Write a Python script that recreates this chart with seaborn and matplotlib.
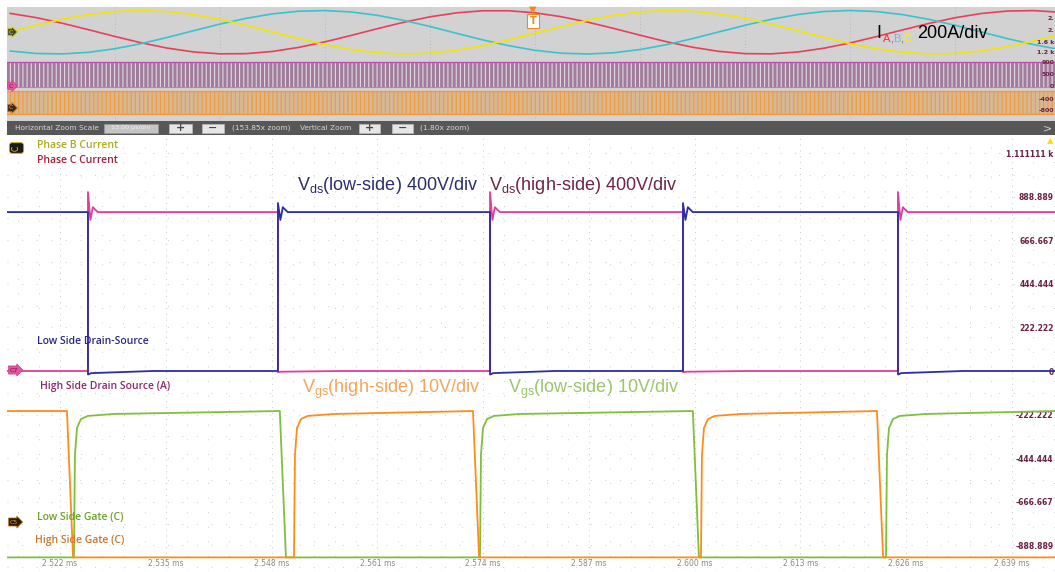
import numpy as np
import pandas as pd
import matplotlib
matplotlib.use("Agg")
import matplotlib.pyplot as plt
from matplotlib.patches import Rectangle
from matplotlib.ticker import MultipleLocator
import seaborn as sns

# ---- overview (full record) : three phase currents, sampled every 0.5 ms
ov_time_ms = [-10.0, -9.5, -9.0, -8.5, -8.0, -7.5, -7.0, -6.5, -6.0, -5.5, -5.0, -4.5, -4.0, -3.5,
              -3.0, -2.5, -2.0, -1.5, -1.0, -0.5, 0.0, 0.5, 1.0, 1.5, 2.0, 2.5, 3.0, 3.5, 4.0, 4.5,
              5.0, 5.5, 6.0, 6.5, 7.0, 7.5, 8.0, 8.5, 9.0, 9.5, 10.0]
phase_a_amp = [347, 269, 165, 46, -78, -194, -292, -362, -397, -393, -353, -278, -176, -58, 66, 184,
               284, 356, 395, 395, 358, 286, 187, 70, -54, -173, -275, -351, -393, -397, -363, -294,
               -197, -81, 43, 162, 267, 345, 390, 398, 368]
phase_b_amp = [-344, -390, -398, -368, -303, -209, -94, 29, 150, 256, 338, 387, 399, 373, 311, 219,
               106, -18, -139, -247, -332, -384, -400, -377, -318, -229, -117, 6, 128, 238, 325, 381,
               400, 381, 325, 238, 128, 6, -117, -228, -318]
phase_c_amp = [7, 129, 239, 326, 381, 400, 380, 324, 237, 127, 5, -118, -229, -319, -377, -400, -384,
               -331, -247, -138, -17, 106, 219, 311, 373, 399, 387, 338, 256, 149, 29, -95, -209, -304,
               -369, -399, -390, -344, -265, -160, -40]
ov_ticks_ms = [-8, -6, -4, -2, 0, 2, 4, 6, 8]
ov_tick_labels = ["-8 ms", "-6 ms", "-4 ms", "-2 ms", "0 s", "2 ms", "4 ms", "6 ms", "8 ms"]
ov_right_labels = ["2.", "2.", "1.6 k", "1.2 k", "900", "500", "0", "-400", "-800"]

# ---- zoomed window : switching edges (ms)
time_ticks_ms = [2.522, 2.535, 2.548, 2.561, 2.574, 2.587, 2.600, 2.613, 2.626, 2.639]
scale_ticks = [1111.111, 888.889, 666.667, 444.444, 222.222, 0, -222.222, -444.444, -666.667, -888.889]
scale_labels = ["1.111111 k", "888.889", "666.667", "444.444", "222.222", "0",
                "-222.222", "-444.444", "-666.667", "-888.889"]

vds_edges_ms = [2.52544, 2.54879, 2.57485, 2.59857, 2.62499]
vds_high, vds_low = 810, 0
hs_vds_spike, hs_vds_dip = 912, -6
ls_vds_spike, ls_vds_dip = 856, -18

hs_gate_fall_ms = [2.52286, 2.57276, 2.62241]
hs_gate_rise_ms = [2.55076, 2.60078]
ls_gate_rise_ms = [2.52372, 2.57362, 2.62352]
ls_gate_fall_ms = [2.54902, 2.59978]
gate_high, gate_low = -204, -950
gate_rise_dt_us = [0, 0.12, 0.37, 0.86, 1.7, 4.9]
gate_rise_level = [-950, -428, -290, -245, -229, -219]
gate_fall_us = 0.75

W, H = 1055, 572
T0, T1 = 2.51549, 2.64429
OV0, OV1 = -10.057, 9.905


def vds_trace(start_high, spike, dip):
    high = start_high
    ts, vs = [T0], [vds_high if high else vds_low]
    for t in vds_edges_ms:
        if high:
            ts += [t, t, t + 0.0004, t + 0.008]
            vs += [vds_high, dip, dip * 0.6, vds_low]
        else:
            ts += [t, t, t + 0.0003, t + 0.0006, t + 0.0012]
            vs += [vds_low, spike, vds_high - 40, vds_high + 25, vds_high]
        high = not high
    ts.append(T1)
    vs.append(vds_high if high else vds_low)
    return pd.DataFrame({"t": ts, "v": vs})


def gate_trace(rises, falls, start_high):
    events = sorted([(t, "r") for t in rises] + [(t, "f") for t in falls])
    ts, vs = [T0], [gate_high if start_high else gate_low]
    high = start_high
    for t, kind in events:
        if kind == "f":
            ts += [t, t + gate_fall_us / 1000]
            vs += [gate_high, gate_low]
            high = False
        else:
            ts.append(t)
            vs.append(gate_low)
            for dt, lv in zip(gate_rise_dt_us, gate_rise_level):
                ts.append(t + dt / 1000)
                vs.append(lv)
            high = True
    ts.append(T1)
    vs.append(gate_high if high else gate_low)
    return pd.DataFrame({"t": ts, "v": vs})


def add_ax(x0, y0, x1, y1, **kw):
    return fig.add_axes([x0 / W, 1 - y1 / H, (x1 - x0) / W, (y1 - y0) / H], **kw)


def ftxt(x, y, s, **kw):
    kw.setdefault("va", "center")
    return fig.text(x / W, 1 - y / H, s, **kw)


sns.set_style("white")
plt.rcParams["font.family"] = ["DejaVu Sans"]
plt.rcParams["mathtext.fontset"] = "custom"
plt.rcParams["mathtext.rm"] = "Liberation Sans"
plt.rcParams["hatch.linewidth"] = 0.8

fig = plt.figure(figsize=(W / 100, H / 100), dpi=100)

# ---------------- overview strip
bg = add_ax(7, 7, 1055, 121)
bg.set_facecolor("#d2d2d2")
bg.set_xlim(OV0, OV1)
bg.set_ylim(0, 1)
bg.axhspan(0.298, 0.5175, facecolor="#9f7d9a", edgecolor="#e6d6e6", hatch="||||", lw=0)
bg.axhline(0.5175, color="#c04fb4", lw=1.0)
bg.axhline(0.298, color="#e070b0", lw=0.8)
bg.axhspan(0.061, 0.263, facecolor="#d6b896", edgecolor="#f29a3a", hatch="||||", lw=0)
bg.axhline(0.263, color="#f29a3a", lw=1.0)
bg.axhline(0.061, color="#f29a3a", lw=1.0)
bg.set_xticks(ov_ticks_ms, ov_tick_labels)
bg.set_yticks([])
bg.tick_params(axis="x", length=0, pad=-7, labelsize=4.5, labelcolor="#707070")
bg.grid(axis="x", ls=(0, (1, 3)), color="#b0b0b0", lw=0.6)
for s in bg.spines.values():
    s.set_visible(False)

cur = add_ax(7, 8, 1055, 60)
cur.patch.set_alpha(0)
cur.set_xlim(OV0, OV1)
cur.set_ylim(-510, 446)
for vals, col in [(phase_a_amp, "#e8405a"), (phase_b_amp, "#38c4cc"), (phase_c_amp, "#f2e600")]:
    sns.lineplot(x=ov_time_ms, y=vals, ax=cur, color=col, lw=1.2, estimator=None, sort=False)
cur.axis("off")

ftxt(876, 33, "I", fontsize=13, family="Liberation Sans", color="black")
ftxt(883, 39, "A", fontsize=8, family="Liberation Sans", color="#ff2a2a")
ftxt(890, 39, ",", fontsize=8, family="Liberation Sans", color="#6a6a6a")
ftxt(893, 39, "B", fontsize=8, family="Liberation Sans", color="#7fb2e0")
ftxt(900, 39, ",", fontsize=8, family="Liberation Sans", color="#6a6a6a")
ftxt(903, 39, "C", fontsize=8, family="Liberation Sans", color="#ffee00", weight="bold")
ftxt(917, 33, "200A/div", fontsize=13, family="Liberation Sans", color="black")

for lab, y in zip(ov_right_labels, [19, 31, 42, 52, 63, 75, 86, 99, 110]):
    ftxt(1054, y, lab, ha="right", fontsize=4.5, color="#6b2142", weight="bold")

ftxt(533, 10, "\u25bc", ha="center", fontsize=7, color="#f08a20")
ftxt(533, 21, "T", ha="center", fontsize=7, weight="bold", color="#f08a20",
     bbox=dict(boxstyle="square,pad=0.25", fc="white", ec="#f08a20", lw=0.8))
ftxt(9, 32, "C", fontsize=4.5, color="#f2e600",
     bbox=dict(boxstyle="rarrow,pad=0.2", fc="#4a4a3a", ec="#f2e600", lw=0.5))
ftxt(9, 86, "C", fontsize=4.5, color="#6b1a4a",
     bbox=dict(boxstyle="rarrow,pad=0.2", fc="#e4559e", ec="#c9408a", lw=0.5))
ftxt(9, 108, "C", fontsize=4.5, color="#e8a040",
     bbox=dict(boxstyle="rarrow,pad=0.2", fc="#3a2a1a", ec="#d08a30", lw=0.5))

# ---------------- zoom toolbar
tb = add_ax(7, 121, 1055, 135)
tb.set_facecolor("#575757")
tb.set_xlim(7, 1055)
tb.set_ylim(135, 121)
tb.axis("off")
tb.add_patch(Rectangle((7, 121), 1048, 14, fc="#575757", ec="none"))
tb_font = dict(fontsize=5.3, color="#d6d6d6", va="center")
tb.text(15, 128, "Horizontal Zoom Scale", **tb_font)
tb.add_patch(Rectangle((104, 123.5), 54, 9, fc="#c4c4c4", ec="#9a9a9a", lw=0.5))
tb.text(131, 128, "13.00 \u00b5s/div", ha="center", fontsize=4.6, color="#f0f0f0", va="center")
for x0, x1, sym in [(169, 192, "+"), (202, 224, "\u2212"), (359, 380, "+"), (392, 413, "\u2212")]:
    tb.add_patch(Rectangle((x0, 123.5), x1 - x0, 9, fc="#e6e6e6", ec="#bbbbbb", lw=0.5))
    tb.text((x0 + x1) / 2, 128, sym, ha="center", va="center", fontsize=8, weight="bold", color="#444444")
tb.text(232, 128, "(153.85x zoom)", **tb_font)
tb.text(300, 128, "Vertical Zoom", **tb_font)
tb.text(420, 128, "(1.80x zoom)", **tb_font)
tb.text(1052, 128, ">", ha="right", fontsize=8, color="#cfcfcf", va="center")

# ---------------- zoomed scope window
ax = add_ax(7, 136, 1055, 571)
ax.set_facecolor("white")
ax.set_xlim(T0, T1)
ax.set_ylim(-1019.4, 1197.8)

ax.xaxis.set_major_locator(MultipleLocator(0.013))
ax.xaxis.set_minor_locator(MultipleLocator(0.0026))
ax.yaxis.set_minor_locator(MultipleLocator(111.111))
ax.grid(which="major", axis="x", ls=(0, (1, 5)), color="#c8c8c8", lw=0.7)
ax.grid(which="minor", axis="x", ls=(0, (1, 14)), color="#cdcdcd", lw=0.7)
ax.grid(which="both", axis="y", ls=(0, (1, 14)), color="#cdcdcd", lw=0.7)

hs_vds = vds_trace(False, hs_vds_spike, hs_vds_dip)
ls_vds = vds_trace(True, ls_vds_spike, ls_vds_dip)
hs_vgs = gate_trace(hs_gate_rise_ms, hs_gate_fall_ms, True)
ls_vgs = gate_trace(ls_gate_rise_ms, ls_gate_fall_ms, False)

sns.lineplot(data=hs_vds, x="t", y="v", ax=ax, color="#e23c9c", lw=1.3, estimator=None, sort=False)
sns.lineplot(data=ls_vds, x="t", y="v", ax=ax, color="#2c2ca8", lw=1.3, estimator=None, sort=False)
sns.lineplot(data=ls_vgs, x="t", y="v", ax=ax, color="#7ec03c", lw=1.3, estimator=None, sort=False)
sns.lineplot(data=hs_vgs, x="t", y="v", ax=ax, color="#ff8c1a", lw=1.3, estimator=None, sort=False)
ax.set_xlabel("")
ax.set_ylabel("")

ax.set_xticks(time_ticks_ms, [f"{t:.3f} ms" for t in time_ticks_ms])
ax.tick_params(axis="x", which="both", length=0, pad=-9, labelsize=5.5, labelcolor="#8a8a8a")
ax.set_yticks(scale_ticks, scale_labels)
ax.yaxis.tick_right()
ax.tick_params(axis="y", which="both", length=0, pad=-1, labelsize=5.5, labelcolor="#6b2142")
for lab in ax.get_yticklabels():
    lab.set_ha("right")
    lab.set_fontweight("bold")
for s in ax.spines.values():
    s.set_visible(False)

big = dict(fontsize=13, family="Liberation Sans")
ftxt(297, 186, r"$\mathrm{V}_{\mathrm{ds}}$(low-side) 400V/div", color="#2b2d6e", **big)
ftxt(489, 185, r"$\mathrm{V}_{\mathrm{ds}}$(high-side) 400V/div", color="#6e2448", **big)
ftxt(302, 389, r"$\mathrm{V}_{\mathrm{gs}}$(high-side) 10V/div", color="#f6a45c", **big)
ftxt(508, 389, r"$\mathrm{V}_{\mathrm{gs}}$(low-side) 10V/div", color="#9bc66b", **big)

lab_font = dict(fontsize=7.5, family="Open Sans", weight="semibold")
ftxt(37, 146, "Phase B Current", color="#a9ad1f", **lab_font)
ftxt(37, 160, "Phase C Current", color="#a8203a", **lab_font)
ftxt(37, 341, "Low Side Drain-Source", color="#2a2a8c", **lab_font)
ftxt(40, 386, "High Side Drain Source (A)", color="#8b2a6a", **lab_font)
ftxt(37, 517, "Low Side Gate (C)", color="#6aa329", **lab_font)
ftxt(35, 540, "High Side Gate (C)", color="#c8782a", **lab_font)

ftxt(12, 148, "C", fontsize=5.5, color="#e8d800", rotation=90,
     bbox=dict(boxstyle="round,pad=0.35", fc="#1c1c1c", ec="#c8b400", lw=0.6))
ftxt(10, 370, "C7", fontsize=4.5, color="#5a1a3a",
     bbox=dict(boxstyle="rarrow,pad=0.25", fc="#e4559e", ec="#c9408a", lw=0.5))
ftxt(10, 522, "C5", fontsize=4.5, color="#e8a040",
     bbox=dict(boxstyle="rarrow,pad=0.25", fc="#2a1a0a", ec="#d08a30", lw=0.5))
ftxt(1053, 141, "\u25b2", ha="right", fontsize=6, color="#f2e600")

fig.savefig("out.png", dpi=100)
